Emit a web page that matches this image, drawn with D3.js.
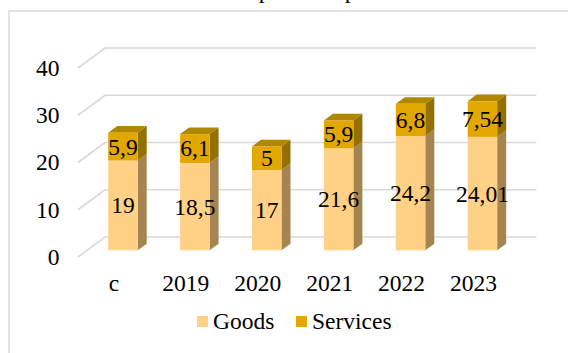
<!DOCTYPE html>
<html>
<head>
<meta charset="utf-8">
<script src="https://cdn.jsdelivr.net/npm/d3@7"></script>
<style>
  html, body { margin: 0; padding: 0; background: #ffffff; }
  svg { display: block; }
</style>
</head>
<body>
<svg id="chart" width="568" height="353"></svg>
<script>
// Export values by year (stacked: goods + services)
const categories = ["c", "2019", "2020", "2021", "2022", "2023"];
const goods = [19, 18.5, 17, 21.6, 24.2, 24.01];
const services = [5.9, 6.1, 5, 5.9, 6.8, 7.54];
const goodsLabels = ["19", "18,5", "17", "21,6", "24,2", "24,01"];
const servicesLabels = ["5,9", "6,1", "5", "5,9", "6,8", "7,54"];
const yTicks = [0, 10, 20, 30, 40];
const seriesNames = ["Goods", "Services"];
const titleText = "Export composition";

const W = 568, H = 353;
const FONT = "'Liberation Serif', Tinos, 'DejaVu Serif', 'Times New Roman', serif";
const svg = d3.select("#chart").attr("font-family", FONT);

// 3D projection: front plane coordinates plus a depth vector
const DEPTH = { dx: 27, dy: -20 };
const x = d3.scaleBand().domain(categories).range([78, 509.4]).padding(0);
const y = d3.scaleLinear().domain([0, 40]).range([257, 68]);
const proj = (px, py, t) => [px + DEPTH.dx * t, py + DEPTH.dy * t];

const barW = x.bandwidth() * 0.41;
const t1 = 1 / 3, t2 = 2 / 3;

const palette = {
  goods:    { front: "#FFD186", side: "#A5844F", top: "#C9A468" },
  services: { front: "#E2A700", side: "#937000", top: "#B08800" }
};

const fontSize = 23.5;

// chart frame
svg.append("path")
  .attr("d", `M9,${H + 5} L9,11 L${W + 5},11`)
  .attr("fill", "none").attr("stroke", "#D9D9D9").attr("stroke-width", 1.5);

// title
svg.append("text")
  .attr("x", 232).attr("y", -2)
  .attr("font-family", FONT)
  .attr("font-size", 24)
  .text(titleText);

// gridlines on side wall and back wall
const grid = svg.append("g").attr("fill", "none").attr("stroke", "#D9D9D9").attr("stroke-width", 1.6);
const [xs, xe] = x.range();
yTicks.forEach(v => {
  const a = proj(xs, y(v), 0), b = proj(xs, y(v), 1), c = proj(xe, y(v), 1);
  grid.append("path").attr("d", `M${a[0]},${a[1]} L${b[0]},${b[1]} L${c[0]},${c[1]}`);
});

// y tick labels
svg.append("g").selectAll("text").data(yTicks).join("text")
  .attr("x", 59.5).attr("y", d => y(d))
  .attr("dy", "0.34em")
  .attr("text-anchor", "end")
  .attr("font-family", FONT)
  .attr("font-size", fontSize)
  .text(d => d);

// category labels
svg.append("g").selectAll("text").data(categories).join("text")
  .attr("x", d => x(d) + x.bandwidth() / 2)
  .attr("y", 290.5)
  .attr("text-anchor", "middle")
  .attr("font-family", FONT)
  .attr("font-size", fontSize)
  .text(d => d);

// stacked 3D bars
const bars = svg.append("g");
const poly = pts => "M" + pts.map(p => p.join(",")).join("L") + "Z";

categories.forEach((cat, i) => {
  const cx = x(cat) + x.bandwidth() / 2;
  const xl = cx - barW / 2, xr = cx + barW / 2;
  const segs = [
    { lo: 0, hi: goods[i], col: palette.goods, label: goodsLabels[i] },
    { lo: goods[i], hi: goods[i] + services[i], col: palette.services, label: servicesLabels[i] }
  ];
  const g = bars.append("g");
  segs.forEach((s, k) => {
    const yl = y(s.lo), yh = y(s.hi);
    // right side face
    g.append("path")
      .attr("d", poly([proj(xr, yl, t1), proj(xr, yl, t2), proj(xr, yh, t2), proj(xr, yh, t1)]))
      .attr("fill", s.col.side);
    // top face for the upper segment
    if (k === segs.length - 1) {
      g.append("path")
        .attr("d", poly([proj(xl, yh, t1), proj(xr, yh, t1), proj(xr, yh, t2), proj(xl, yh, t2)]))
        .attr("fill", s.col.top);
    }
    // front face
    const f0 = proj(xl, yh, t1), f1 = proj(xr, yl, t1);
    g.append("rect")
      .attr("x", f0[0]).attr("y", f0[1])
      .attr("width", f1[0] - f0[0]).attr("height", f1[1] - f0[1])
      .attr("fill", s.col.front);
  });
  // value labels centred on the front faces
  segs.forEach(s => {
    const mid = proj(cx, (y(s.lo) + y(s.hi)) / 2, t1);
    g.append("text")
      .attr("x", mid[0]).attr("y", mid[1])
      .attr("dy", "0.34em")
      .attr("text-anchor", "middle")
      .attr("font-family", FONT)
      .attr("font-size", fontSize)
      .text(s.label);
  });
});

// legend
const legend = svg.append("g");
const legendItems = [
  { name: seriesNames[0], color: palette.goods.front, x: 197 },
  { name: seriesNames[1], color: palette.services.front, x: 296 }
];
legendItems.forEach(it => {
  legend.append("rect").attr("x", it.x).attr("y", 316).attr("width", 11).attr("height", 11).attr("fill", it.color);
  legend.append("text").attr("x", it.x + 16).attr("y", 329)
    .attr("font-family", FONT).attr("font-size", fontSize).text(it.name);
});
</script>
</body>
</html>
